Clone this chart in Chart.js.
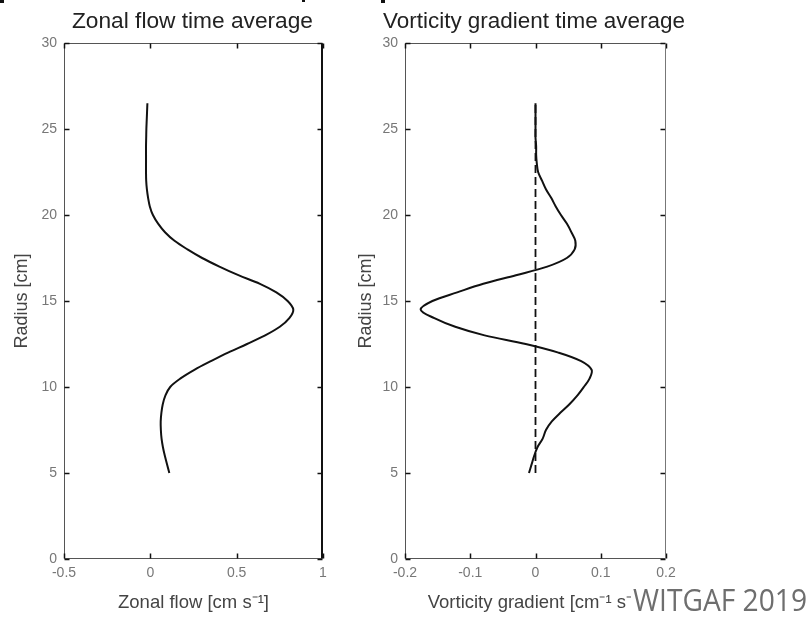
<!DOCTYPE html>
<html>
<head>
<meta charset="utf-8">
<script src="https://cdn.jsdelivr.net/npm/chart.js@4.4.0/dist/chart.umd.min.js"></script>
<style>
  html, body { margin: 0; padding: 0; background: #fff; }
  #wrap { position: relative; width: 808px; height: 617px; overflow: hidden; background: #fff; }
  canvas { position: absolute; top: 0; }
  #zonalCanvas { left: 0; }
  #vortCanvas { left: 345px; }
  .edge { position: absolute; top: 0; height: 3px; background: #111; }
</style>
</head>
<body>
<div id="wrap">
  <canvas id="zonalCanvas" width="345" height="617"></canvas>
  <canvas id="vortCanvas" width="463" height="617"></canvas>
  <div class="edge" style="left:0;width:4px"></div>
  <div class="edge" style="left:302px;width:3px;height:2px"></div>
  <div class="edge" style="left:381px;width:4px"></div>
</div>
<script>
// Radial profiles (radius in cm)
const radius = [5, 5.5, 6, 6.5, 7, 7.5, 8, 8.5, 9, 9.5, 10, 10.5, 11, 11.5, 12, 12.5, 13, 13.5,
  14, 14.5, 15, 15.5, 16, 16.5, 17, 17.5, 18, 18.5, 19, 19.5, 20, 20.5, 21, 21.5, 22, 22.5,
  23, 23.5, 24, 24.5, 25, 25.5, 26, 26.5];

// Time-averaged zonal flow [cm s^-1]
const zonalFlow = [0.110, 0.097, 0.084, 0.073, 0.065, 0.061, 0.060, 0.064, 0.072, 0.087,
  0.115, 0.175, 0.255, 0.350, 0.450, 0.560, 0.665, 0.750, 0.805, 0.828, 0.795, 0.730,
  0.635, 0.510, 0.400, 0.300, 0.215, 0.140, 0.085, 0.045, 0.015, -0.003, -0.013, -0.020,
  -0.024, -0.025, -0.025, -0.025, -0.025, -0.024, -0.023, -0.021, -0.019, -0.017];

// Time-averaged vorticity gradient [cm^-1 s^-1]
const vorticityGradient = [-0.010, -0.006, -0.002, 0.003, 0.011, 0.016, 0.025, 0.038, 0.052,
  0.064, 0.074, 0.083, 0.086, 0.070, 0.035, -0.015, -0.078, -0.123, -0.155, -0.176, -0.158,
  -0.120, -0.080, -0.030, 0.018, 0.048, 0.060, 0.061, 0.055, 0.048, 0.039, 0.031, 0.024,
  0.016, 0.010, 0.004, 0.002, 0.001, 0.001, 0.000, 0.000, 0.000, 0.000, 0.000];

// Zero reference line in the vorticity panel
const referenceRadius = [5, 26.5];
const referenceValue = [0, 0];

// Tick positions
const radiusTicks = [0, 5, 10, 15, 20, 25, 30];
const zonalTicks = [-0.5, 0, 0.5, 1];
const vorticityTicks = [-0.2, -0.1, 0, 0.1, 0.2];

const creditText = 'WITGAF 2019';

const FONT = '"Liberation Sans", Arial, Helvetica, sans-serif';

function toPoints(xs, ys) { return xs.map((v, i) => ({ x: v, y: ys[i] })); }

// Box frame with short inward ticks on all four sides
const framePlugin = {
  id: 'frame',
  afterDraw(chart, args, opts) {
    const { ctx, chartArea: a, scales: { x, y } } = chart;
    const L = Math.round(a.left) + 0.5, R = Math.round(a.right) - 0.5;
    const T = Math.round(a.top) + 0.5, B = Math.round(a.bottom) - 0.5;
    const len = 5;
    ctx.save();
    ctx.setLineDash([]);
    ctx.lineWidth = 1;
    ctx.strokeStyle = opts.color;
    ctx.beginPath();
    ctx.moveTo(L, B); ctx.lineTo(L, T); ctx.lineTo(R, T);
    ctx.moveTo(L, B); ctx.lineTo(R, B);
    ctx.stroke();
    ctx.beginPath();
    ctx.lineWidth = 1.5;
    ctx.strokeStyle = opts.tickColor;
    opts.xTicks.forEach(v => {
      const px = Math.round(x.getPixelForValue(v)) + 0.5;
      ctx.moveTo(px, B); ctx.lineTo(px, B - len);
      ctx.moveTo(px, T); ctx.lineTo(px, T + len);
    });
    radiusTicks.forEach(v => {
      const py = Math.round(y.getPixelForValue(v)) + 0.5;
      ctx.moveTo(L, py); ctx.lineTo(L + len, py);
      ctx.moveTo(R, py); ctx.lineTo(R - len, py);
    });
    ctx.stroke();
    ctx.beginPath();
    ctx.lineWidth = opts.rightWidth;
    ctx.strokeStyle = opts.rightColor;
    ctx.moveTo(Math.round(a.right) - opts.rightWidth / 2, T);
    ctx.lineTo(Math.round(a.right) - opts.rightWidth / 2, B);
    ctx.stroke();
    ctx.restore();
  }
};

// Panel title, centred at a given x and fitted to a given width
const panelTitlePlugin = {
  id: 'panelTitle',
  afterDraw(chart, args, opts) {
    const { ctx } = chart;
    ctx.save();
    ctx.font = '22px ' + FONT;
    const w = ctx.measureText(opts.text).width;
    ctx.translate(opts.cx, opts.cy);
    ctx.scale(opts.width / w, 1);
    ctx.fillStyle = '#222';
    ctx.textAlign = 'center';
    ctx.textBaseline = 'middle';
    ctx.fillText(opts.text, 0, 0);
    ctx.restore();
  }
};

// Credit text in the lower-right corner
const creditPlugin = {
  id: 'credit',
  afterDraw(chart, args, opts) {
    if (!opts.text) return;
    const { ctx } = chart;
    ctx.save();
    ctx.font = '31px "Open Sans", sans-serif';
    const w = ctx.measureText(opts.text).width;
    ctx.fillStyle = '#fff';
    ctx.fillRect(opts.x - 2, opts.baseline - 25, opts.width + 4, 32);
    ctx.translate(opts.x, opts.baseline);
    ctx.scale(opts.width / w, 1);
    ctx.fillStyle = '#6e6e6e';
    ctx.textBaseline = 'alphabetic';
    ctx.fillText(opts.text, 0, 0);
    ctx.restore();
  }
};

function makeOptions(cfg) {
  return {
    responsive: false,
    animation: false,
    devicePixelRatio: 1,
    layout: { padding: { top: 43, left: 0, bottom: 0, right: cfg.padRight } },
    plugins: {
      legend: { display: false },
      tooltip: { enabled: false },
      title: { display: false },
      panelTitle: cfg.title,
      frame: {
        color: '#555', tickColor: '#111', xTicks: cfg.xTicks,
        rightWidth: cfg.rightWidth, rightColor: cfg.rightColor
      },
      credit: cfg.credit || {}
    },
    scales: {
      x: {
        type: 'linear',
        min: cfg.xTicks[0],
        max: cfg.xTicks[cfg.xTicks.length - 1],
        afterBuildTicks: s => { s.ticks = cfg.xTicks.map(v => ({ value: v })); },
        afterFit: s => { s.height = 58; },
        grid: { display: false, drawTicks: false },
        border: { display: false },
        ticks: {
          color: '#777', padding: 6, maxRotation: 0, autoSkip: false,
          font: { family: FONT, size: 14 },
          callback: v => String(v)
        },
        title: {
          display: true, text: cfg.xTitle, color: '#444',
          font: { family: FONT, size: 18.5 },
          padding: { top: 0, bottom: 3 }
        }
      },
      y: {
        type: 'linear',
        min: 0,
        max: 30,
        afterBuildTicks: s => { s.ticks = radiusTicks.map(v => ({ value: v })); },
        afterFit: s => { s.width = cfg.yWidth; },
        grid: { display: false, drawTicks: false },
        border: { display: false },
        ticks: {
          color: '#777', padding: 7, autoSkip: false,
          font: { family: FONT, size: 14 },
          callback: v => String(v)
        },
        title: {
          display: true, text: 'Radius [cm]', color: '#444',
          font: { family: FONT, size: 18 },
          padding: { top: cfg.yTitlePad, bottom: 0 }
        }
      }
    }
  };
}

const lineStyle = {
  showLine: true, borderColor: '#111', borderWidth: 2, pointRadius: 0,
  tension: 0.35, fill: false
};

new Chart(document.getElementById('zonalCanvas'), {
  type: 'scatter',
  data: {
    datasets: [
      Object.assign({ label: 'Zonal flow', data: toPoints(zonalFlow, radius) }, lineStyle)
    ]
  },
  options: makeOptions({
    title: { text: 'Zonal flow time average', cx: 192.5, cy: 22, width: 241 },
    xTitle: 'Zonal flow [cm s\u207B\u00B9]',
    xTicks: zonalTicks,
    yWidth: 64,
    yTitlePad: 11.2,
    padRight: 22,
    rightWidth: 2,
    rightColor: '#111'
  }),
  plugins: [framePlugin, panelTitlePlugin, creditPlugin]
});

new Chart(document.getElementById('vortCanvas'), {
  type: 'scatter',
  data: {
    datasets: [
      Object.assign({ label: 'Vorticity gradient', data: toPoints(vorticityGradient, radius), order: 0 }, lineStyle),
      {
        label: 'Zero', data: toPoints(referenceValue, referenceRadius), order: 1,
        showLine: true, borderColor: '#111', borderWidth: 1.8, borderDash: [8, 4],
        pointRadius: 0, tension: 0, fill: false
      }
    ]
  },
  options: makeOptions({
    title: { text: 'Vorticity gradient time average', cx: 534 - 345, cy: 22, width: 302 },
    xTitle: 'Vorticity gradient [cm\u207B\u00B9 s\u207B\u00B9]',
    xTicks: vorticityTicks,
    yWidth: 60,
    yTitlePad: 10.2,
    padRight: 142,
    rightWidth: 1,
    rightColor: '#777',
    credit: { text: creditText, x: 633 - 345, baseline: 611, width: 174 }
  }),
  plugins: [framePlugin, panelTitlePlugin, creditPlugin]
});
</script>
</body>
</html>
